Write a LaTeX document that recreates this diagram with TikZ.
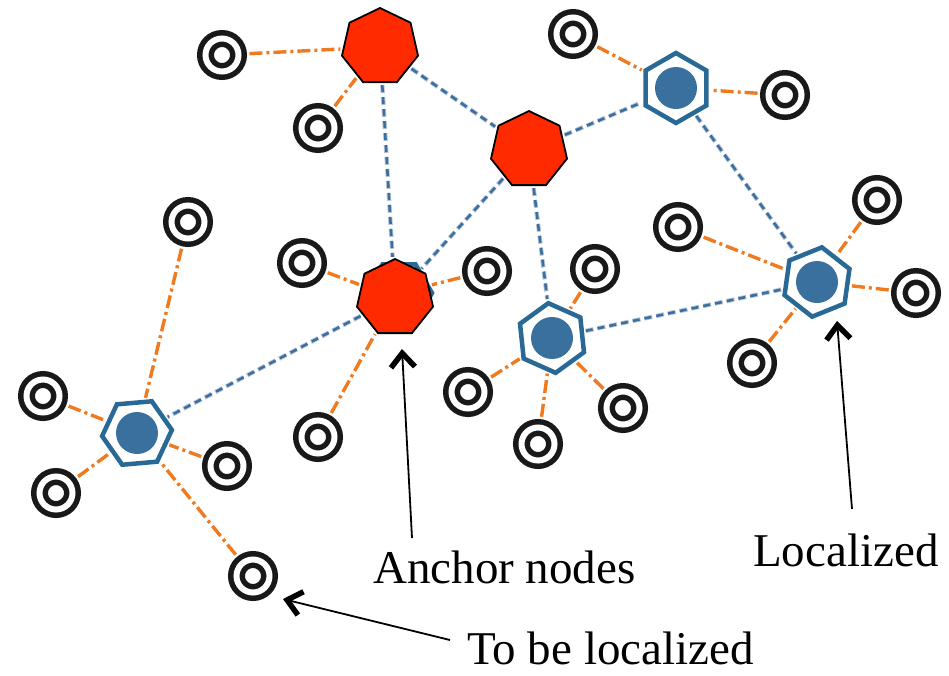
\documentclass[tikz,border=0pt]{standalone}
\usepackage{fontspec}
\setmainfont{Liberation Serif}
\usetikzlibrary{shapes.geometric,arrows.meta}
\pgfdeclarelayer{background}
\pgfsetlayers{background,main}
\definecolor{anchorred}{RGB}{255,42,0}
\definecolor{hexblue}{RGB}{40,105,150}
\definecolor{dotblue}{RGB}{58,112,158}
\definecolor{linkblue}{RGB}{60,110,160}
\definecolor{linkhalo}{RGB}{185,200,215}
\definecolor{linkorange}{RGB}{240,122,32}
\definecolor{ringink}{RGB}{25,25,25}

\begin{document}
\begin{tikzpicture}[x=1pt,y=-1pt,
  ring/.style={circle, draw=ringink, line width=5.5pt, double=white,
    double distance=6pt, minimum size=33pt, inner sep=0pt, outer sep=11pt},
  anchornode/.style={regular polygon, regular polygon sides=7,
    minimum size=78pt, inner sep=0pt, outer sep=3pt,
    fill=anchorred, draw=black, line width=1.8pt},
  localnode/.style={regular polygon, regular polygon sides=6,
    minimum size=70pt, inner sep=0pt, outer sep=4pt,
    fill=white, draw=hexblue, line width=4.5pt,
    path picture={\fill[dotblue] (path picture bounding box.center) circle (21pt);}},
  bluelink/.style={draw=linkblue, line width=2.6pt, dash pattern=on 7pt off 5pt,
    preaction={draw=linkhalo, line width=4.4pt, dash pattern=on 8pt off 4pt}},
  orangelink/.style={draw=linkorange, line width=3.4pt,
    dash pattern=on 13pt off 4pt on 3pt off 4pt},
  caption/.style={font=\fontsize{47}{56}\selectfont, inner sep=0pt, anchor=base west},
  pointer/.style={draw=black, line width=1.8pt,
    -{Straight Barb[length=14pt,width=24pt,line width=5.5pt]}}
]
\useasboundingbox (0,0) rectangle (949,675);

% anchors (known positions)
\node[anchornode] (A1) at (380,47) {};
\node[anchornode] (A2) at (529,150) {};
% localized nodes (H0 lies mostly behind anchor A3)
\node[localnode, minimum size=66pt, shape border rotate=0] (H0) at (399,293) {};
\node[anchornode] (A3) at (395,298) {};
\node[localnode, shape border rotate=30] (H1) at (676,88) {};
\node[localnode, shape border rotate=22] (H2) at (817,282) {};
\node[localnode, shape border rotate=36] (H3) at (552,338) {};
\node[localnode, shape border rotate=5]  (H4) at (137,433) {};

% nodes still to be localized
\foreach \n/\x/\y in {r1/222/55, r2/318/128, r3/573/34, r4/785/95,
    r5/188/222, r6/302/263, r7/487/271, r8/318/437,
    r9/678/227, r10/877/200, r11/916/293, r12/752/363,
    r13/595/269, r14/468/392, r15/623/408, r16/538/444,
    r17/43/396, r18/56/493, r19/227/466, r20/253/576}
  \node[ring] (\n) at (\x,\y) {};

\begin{pgfonlayer}{background}
  % links between anchors and localized nodes
  \foreach \a/\b in {A1/A2, A1/A3, A2/A3, A2/H1, A2/H3, H1/H2, H3/H2, A3/H4}
    \draw[bluelink] (\a) -- (\b);
  % links from unlocalized nodes to their references
  \foreach \a/\b in {r1/A1, r2/A1, r3/H1, r4/H1, r5/H4, r6/A3, r7/H0, r8/A3,
      r9/H2, r10/H2, r11/H2, r12/H2, r13/H3, r14/H3, r15/H3, r16/H3,
      r17/H4, r18/H4, r19/H4, r20/H4}
    \draw[orangelink] (\a) -- (\b);
\end{pgfonlayer}

% legend
\node[caption] (anchorlbl) at (373,583) {Anchor nodes};
\node[caption] (locallbl) at (753,566) {Localized};
\node[caption] (tobelbl) at (467,664) {To be localized};

\coordinate (anchortail) at (412,538);
\coordinate (anchortip) at (402,349);
\coordinate (localtail) at (852,509);
\coordinate (localtip) at (837,321);
\coordinate (tobetail) at (450,640);
\coordinate (tobetip) at (283,599);
\draw[pointer] (anchortail) -- (anchortip);
\draw[pointer] (localtail) -- (localtip);
\draw[pointer] (tobetail) -- (tobetip);
\end{tikzpicture}
\end{document}
